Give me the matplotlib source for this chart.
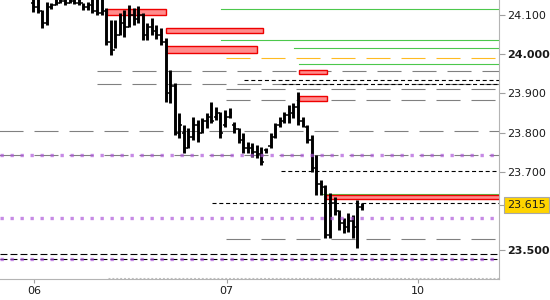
import matplotlib
matplotlib.use('Agg')
import matplotlib.pyplot as plt
from matplotlib.patches import Rectangle

plt.rcParams['lines.scale_dashes'] = False
plt.rcParams['font.family'] = ['DejaVu Sans']

# OHLC bars
highs = [24.15, 24.15, 24.113, 24.133, 24.131, 24.15, 24.15, 24.15, 24.15, 24.15,
         24.15, 24.131, 24.133, 24.15, 24.15, 24.15, 24.118, 24.087, 24.087, 24.105,
         24.113, 24.126, 24.118, 24.123, 24.105, 24.080, 24.092, 24.074, 24.067, 24.041,
         23.960, 23.927, 23.850, 23.819, 23.812, 23.840, 23.832, 23.837, 23.850, 23.878,
         23.865, 23.853, 23.858, 23.863, 23.827, 23.812, 23.799, 23.776, 23.773, 23.768,
         23.763, 23.761, 23.799, 23.824, 23.840, 23.853, 23.870, 23.876, 23.904, 23.840,
         23.819, 23.794, 23.743, 23.679, 23.666, 23.646, 23.636, 23.603, 23.582, 23.595,
         23.590, 23.628, 23.620]
lows = [24.108, 24.105, 24.067, 24.074, 24.115, 24.126, 24.131, 24.126, 24.131, 24.128,
        24.126, 24.113, 24.113, 24.105, 24.100, 24.100, 24.023, 23.998, 24.016, 24.049,
        24.044, 24.069, 24.074, 24.080, 24.036, 24.036, 24.049, 24.039, 24.023, 23.878,
        23.876, 23.794, 23.786, 23.748, 23.761, 23.781, 23.776, 23.799, 23.812, 23.824,
        23.832, 23.786, 23.814, 23.837, 23.799, 23.773, 23.748, 23.748, 23.738, 23.735,
        23.717, 23.748, 23.761, 23.786, 23.814, 23.824, 23.824, 23.837, 23.819, 23.814,
        23.773, 23.699, 23.641, 23.641, 23.531, 23.531, 23.590, 23.552, 23.544, 23.546,
        23.531, 23.506, 23.603]
opens = [24.13, 24.12, 24.11, 24.08, 24.12, 24.125, 24.13, 24.135, 24.13, 24.135,
         24.13, 24.13, 24.12, 24.125, 24.11, 24.105, 24.11, 24.03, 24.01, 24.05,
         24.08, 24.07, 24.10, 24.09, 24.10, 24.05, 24.07, 24.06, 24.05, 24.03,
         23.90, 23.92, 23.80, 23.80, 23.76, 23.79, 23.82, 23.80, 23.83, 23.84,
         23.84, 23.85, 23.82, 23.84, 23.82, 23.81, 23.78, 23.76, 23.76, 23.75,
         23.745, 23.755, 23.765, 23.79, 23.82, 23.83, 23.845, 23.85, 23.865, 23.83,
         23.815, 23.78, 23.71, 23.67, 23.66, 23.54, 23.62, 23.60, 23.57, 23.56,
         23.575, 23.56, 23.61]
closes = [24.12, 24.11, 24.08, 24.12, 24.125, 24.13, 24.135, 24.13, 24.135, 24.13,
          24.13, 24.12, 24.125, 24.11, 24.105, 24.11, 24.03, 24.01, 24.05, 24.08,
          24.07, 24.10, 24.09, 24.10, 24.05, 24.07, 24.06, 24.05, 24.03, 23.90,
          23.92, 23.80, 23.82, 23.76, 23.79, 23.82, 23.80, 23.83, 23.84, 23.83,
          23.85, 23.80, 23.84, 23.85, 23.81, 23.78, 23.76, 23.76, 23.75, 23.745,
          23.725, 23.755, 23.79, 23.81, 23.83, 23.845, 23.84, 23.865, 23.83, 23.82,
          23.78, 23.71, 23.67, 23.66, 23.54, 23.62, 23.60, 23.57, 23.56, 23.575,
          23.56, 23.61, 23.615]
last_price = 23.615

# day labels on the x axis (bar index of each session start)
day_pos = [0.2, 42.4, 84.2]
day_labels = ['06', '07', '10']

# price axis labels
price_ticks = [24.1, 24.0, 23.9, 23.8, 23.7, 23.5]
price_labels = ['24.100', '24.000', '23.900', '23.800', '23.700', '23.500']
bold_labels = ['24.000', '23.500']

# levels drawn on the chart, with the bar index where each one starts
green_levels = [24.115, 24.035, 24.015, 23.974, 23.643]
green_from = [41.1, 41.1, 57.1, 58.2, 63.0]
orange_levels = [23.990]
orange_from = [42.2]
gray_levels = [23.958, 23.923, 23.910, 23.882, 23.803, 23.743, 23.528]
gray_from = [14.0, 14.0, 42.2, 42.2, -8, -8, 42.2]
black_levels = [23.933, 23.923, 23.701, 23.620]
black_from = [46.2, 54.5, 54.3, 39.2]
black_long_levels = [23.490, 23.477]
purple_levels = [23.743, 23.583, 23.477]

# red zones: low, high, from, to
zone_lo = [24.100, 24.054, 24.002, 23.949, 23.880, 23.630]
zone_hi = [24.115, 24.067, 24.021, 23.960, 23.893, 23.641]
zone_from = [16.2, 29.1, 29.1, 58.2, 58.2, 64.1]
zone_to = [29.1, 50.3, 49.0, 64.3, 64.3, 104]

x_left, x_right = -7.22, 101.97
y_bot, y_top = 23.4265, 24.1383

fig = plt.figure(figsize=(5.5, 3.0), dpi=100)
ax = fig.add_axes([0, 21 / 300, 499 / 550, 279 / 300])
ax.set_xlim(x_left, x_right)
ax.set_ylim(y_bot, y_top)

# level lines
for lvl, x0 in zip(gray_levels, gray_from):
    ax.plot([x0, x_right], [lvl, lvl], color='#808080', lw=0.8,
            dashes=(17.3, 7.9), zorder=1)
for lvl, x0 in zip(green_levels, green_from):
    ax.plot([x0, x_right], [lvl, lvl], color='#4cc84c', lw=0.8, zorder=2)
for lvl, x0 in zip(orange_levels, orange_from):
    ax.plot([x0, x_right], [lvl, lvl], color='#ffbb22', lw=0.8,
            dashes=(17.3, 7.9), zorder=2)
for lvl, x0 in zip(black_levels, black_from):
    ax.plot([x0, x_right], [lvl, lvl], color='black', lw=0.8,
            dashes=(2.9, 2.0), zorder=2)
for lvl in black_long_levels:
    ax.plot([x_left, x_right], [lvl, lvl], color='black', lw=0.8,
            dashes=(5.0, 2.2), zorder=2)
ax.plot([16.4, x_right], [23.429, 23.429], color='#c0c0c0', lw=0.8,
        dashes=(1.4, 1.4), zorder=1)

# red zones
for lo, hi, x0, x1 in zip(zone_lo, zone_hi, zone_from, zone_to):
    ax.add_patch(Rectangle((x0, lo), x1 - x0, hi - lo, facecolor='#ff8c8c',
                           edgecolor='#ee0000', lw=1.0, zorder=3))

# OHLC bars
idx = list(range(len(highs)))
ax.vlines(idx, lows, highs, color='black', lw=2.1, zorder=4)
ax.hlines(opens, [i - 0.5 for i in idx], idx, color='black', lw=1.1, zorder=4)
ax.hlines(closes, idx, [i + 0.5 for i in idx], color='black', lw=1.1, zorder=4)

# purple dotted levels on top
for lvl in purple_levels:
    ax.plot([x_left, x_right], [lvl, lvl], color='#af59db', alpha=0.7, lw=2.4,
            dashes=(2.4, 4.8), solid_capstyle='butt', dash_capstyle='butt', zorder=5)

# axes styling
for side in ['left', 'top']:
    ax.spines[side].set_visible(False)
for side in ['right', 'bottom']:
    ax.spines[side].set_color('#b4b4b4')
    ax.spines[side].set_linewidth(0.8)

ax.yaxis.tick_right()
ax.set_yticks(price_ticks + [last_price])
ax.set_yticklabels(price_labels + [''])
for lab in ax.get_yticklabels():
    lab.set_color('#1a1a1a')
    if lab.get_text() in bold_labels:
        lab.set_fontweight('bold')
ax.tick_params(axis='y', direction='out', length=4, width=0.8, color='#a0a0a0',
               labelsize=8, pad=2)
ax.set_xticks(day_pos)
ax.set_xticklabels(day_labels)
ax.tick_params(axis='x', direction='out', length=3, width=0.8, color='#a0a0a0',
               labelsize=8, labelcolor='#1a1a1a', pad=2)

# current price label
ax.text(1.016, last_price, '%.3f' % last_price, transform=ax.get_yaxis_transform(),
        ha='left', va='center', fontsize=8, color='#1a1a1a',
        bbox=dict(boxstyle='square,pad=0.25', facecolor='#ffd400', edgecolor='#a8a8a8', lw=0.8),
        clip_on=False)

fig.savefig('out.png', dpi=100)
